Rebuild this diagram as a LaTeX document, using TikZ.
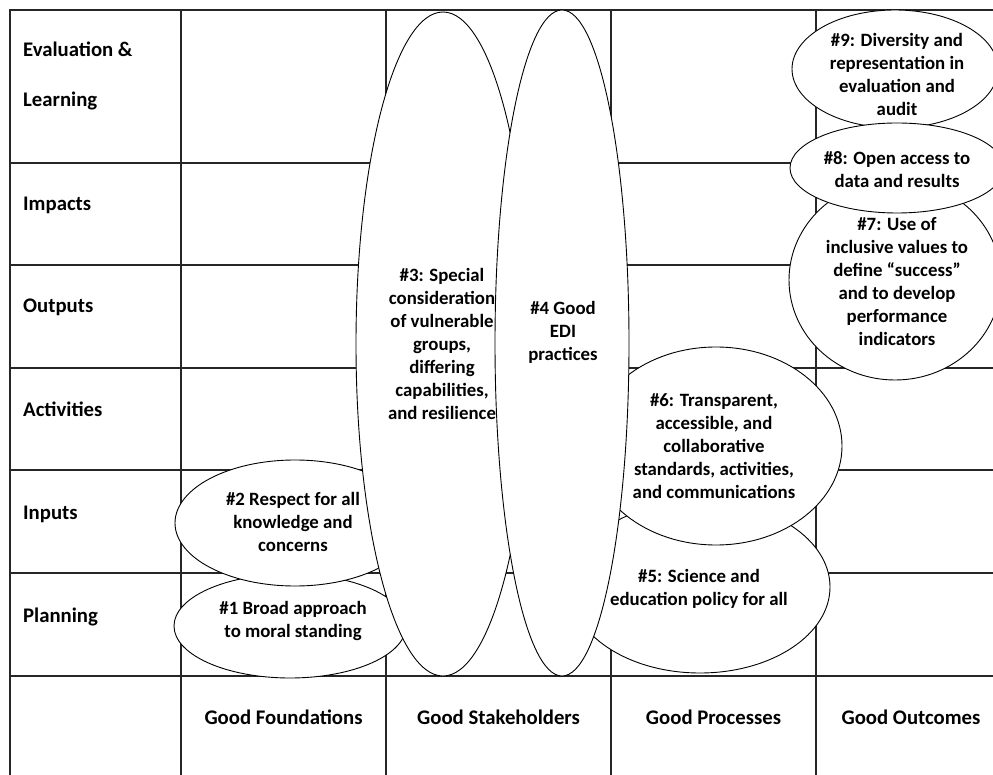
\documentclass[tikz,border=0pt]{standalone}
\usepackage{fontspec}
\setmainfont{Carlito}

\begin{document}
\begin{tikzpicture}[
    x=1pt, y=-1pt,
    grid/.style = {line width=1.4pt, black!85},
    blob/.style = {line width=0.9pt, black, fill=white},
    txt/.style  = {align=center, inner sep=0pt,
                   font=\bfseries\fontsize{18.8}{23}\selectfont},
    lab/.style  = {anchor=base west, inner sep=0pt,
                   font=\bfseries\fontsize{20.75}{50}\selectfont},
    col/.style  = {anchor=base, inner sep=0pt,
                   font=\bfseries\fontsize{20.75}{23}\selectfont},
  ]
  \useasboundingbox (0,0) rectangle (993,775);

  % --- the table: rows are stages, columns are the four "Good" areas ------
  \draw[grid] (10,775) -- (10,10) -- (993,10);
  \foreach \y in {163, 265, 368, 470, 573, 676} {
    \draw[grid] (10,\y) -- (993,\y);
  }
  \foreach \x in {181, 386, 611, 816} {
    \draw[grid] (\x,10) -- (\x,775);
  }

  % --- row and column headings --------------------------------------------
  % (base of a two-line node is its last line)
  \node[lab, align=left] (eval) at (23,107) {Evaluation \&\\Learning};
  \node[lab] (impacts)    at (23,211) {Impacts};
  \node[lab] (outputs)    at (23,313) {Outputs};
  \node[lab] (activities) at (23,416) {Activities};
  \node[lab] (inputs)     at (23,519) {Inputs};
  \node[lab] (planning)   at (23,622) {Planning};

  \node[col] (found)   at (283.5,724) {Good Foundations};
  \node[col] (stake)   at (498.5,724) {Good Stakeholders};
  \node[col] (process) at (713.5,724) {Good Processes};
  \node[col] (outcome) at (911,724)   {Good Outcomes};

  % --- principles, drawn back to front ------------------------------------
  \filldraw[blob] (290,626) ellipse [x radius=116, y radius=52];
  \node[txt] (p1) at (293,621) {\#1 Broad approach\\to moral standing};

  \filldraw[blob] (295,523) ellipse [x radius=120, y radius=63];
  \node[txt] (p2) at (293,522) {\#2 Respect for all\\knowledge and\\concerns};

  \filldraw[blob] (443,344) ellipse [x radius=87, y radius=332];
  \node[txt] (p3) at (442,344)
    {\#3: Special\\consideration\\of vulnerable\\groups,\\differing\\capabilities,\\and resilience};

  \filldraw[blob] (700,587) ellipse [x radius=130, y radius=86];
  \node[txt] (p5) at (699,589) {\#5: Science and\\education policy for all};

  \filldraw[blob] (716,446) ellipse [x radius=126, y radius=99];
  \node[txt] (p6) at (714,446)
    {\#6: Transparent,\\accessible, and\\collaborative\\standards, activities,\\and communications};

  \filldraw[blob] (562,343) ellipse [x radius=67, y radius=333];
  \node[txt] (p4) at (563,332) {\#4 Good\\EDI\\practices};

  \filldraw[blob] (895,69) ellipse [x radius=103, y radius=59];
  \node[txt] (p9) at (897,74)
    {\#9: Diversity and\\representation in\\evaluation and\\audit};

  \filldraw[blob] (895,280) ellipse [x radius=106, y radius=100];
  \node[txt] (p7) at (897,282)
    {\#7: Use of\\inclusive values to\\define “success”\\and to develop\\performance\\indicators};

  \filldraw[blob] (897,168) ellipse [x radius=107, y radius=45];
  \node[txt] (p8) at (897,170) {\#8: Open access to\\data and results};

\end{tikzpicture}
\end{document}
